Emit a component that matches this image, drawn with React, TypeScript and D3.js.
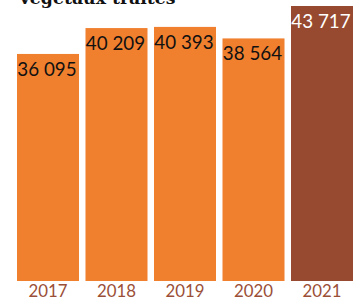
import React from 'react';
import * as d3 from 'd3';

const years = ['2017', '2018', '2019', '2020', '2021'];
const values = [36095, 40209, 40393, 38564, 43717];
const labels = ['36 095', '40 209', '40 393', '38 564', '43 717'];
const title = 'Végétaux traités';

const W = 358;
const H = 302;

export default function App() {
  const x = d3.scaleBand<string>()
    .domain(years)
    .range([17, 353])
    .paddingInner(0.095)
    .paddingOuter(0);

  const y = d3.scaleLinear()
    .domain([0, d3.max(values) as number])
    .range([281, 6]);

  const last = years.length - 1;

  return (
    <svg width={W} height={H} style={{ position: 'absolute', left: 0, top: 0, background: '#fff' }}>
      <text x={18} y={4} fontFamily="'DejaVu Serif', serif" fontWeight="bold" fontSize={17.3} fill="#111">
        {title}
      </text>
      {years.map((yr, i) => {
        const bx = x(yr) as number;
        const top = y(values[i]);
        return (
          <g key={yr}>
            <rect
              x={bx}
              y={top}
              width={x.bandwidth()}
              height={y(0) - top}
              fill={i === last ? '#974a30' : '#f07f2e'}
            />
            <text
              x={bx + x.bandwidth() / 2 - 1}
              y={top + 22}
              textAnchor="middle"
              fontFamily="Lato, sans-serif"
              fontSize={18.8}
              fill={i === last ? '#fff' : '#111'}
            >
              {labels[i]}
            </text>
            <text
              x={bx + x.bandwidth() / 2}
              y={297}
              textAnchor="middle"
              fontFamily="Lato, sans-serif"
              fontSize={16.8}
              fill="#9b4f37"
            >
              {yr}
            </text>
          </g>
        );
      })}
    </svg>
  );
}
